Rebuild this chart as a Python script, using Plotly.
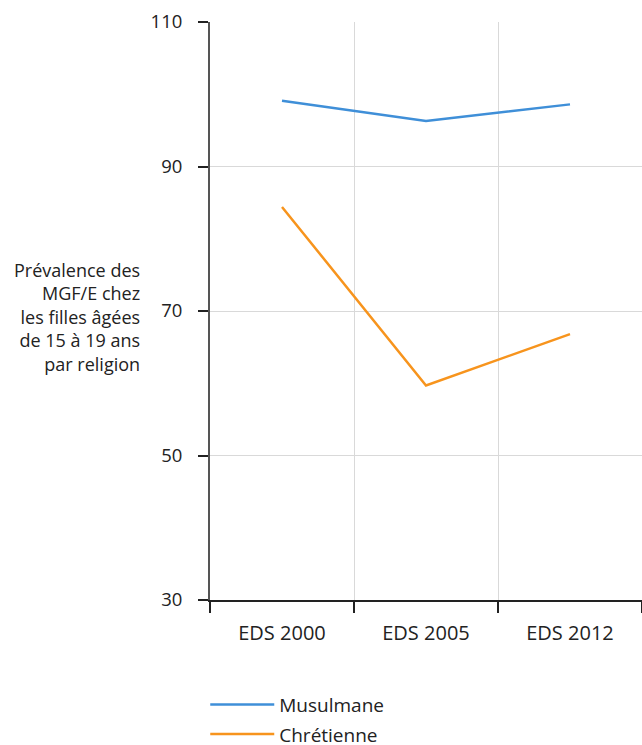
import plotly.graph_objects as go

categories = ["EDS 2000", "EDS 2005", "EDS 2012"]
musulmane = [99.1, 96.3, 98.6]
chretienne = [84.4, 59.7, 66.8]
series_names = ["Musulmane", "Chrétienne"]
y_ticks = [30, 50, 70, 90, 110]
y_title = "Prévalence des<br>MGF/E chez<br>les filles âgées<br>de 15 à 19 ans<br>par religion"

FONT = "Open Sans"
fig = go.Figure()
fig.add_trace(go.Scatter(x=categories, y=musulmane, mode="lines", name=series_names[0],
                         line=dict(color="#3f8fd8", width=2.5), legendgroup="a"))
fig.add_trace(go.Scatter(x=categories, y=chretienne, mode="lines", name=series_names[1],
                         line=dict(color="#f7941d", width=2.5), legendgroup="b"))

fig.update_layout(
    width=642, height=745,
    margin=dict(l=210, r=0, t=22, b=145, autoexpand=False),
    paper_bgcolor="white", plot_bgcolor="white",
    font=dict(family=FONT, size=19, color="#222"),
    showlegend=True,
    legend=dict(orientation="v", x=-0.011, xanchor="left", y=-0.148, yanchor="top",
                font=dict(size=19, color="#222"), itemwidth=64, tracegroupgap=2,
                bgcolor="rgba(0,0,0,0)"),
    annotations=[dict(text=y_title, xref="paper", yref="y", x=-0.158, y=70, yshift=-6,
                      xanchor="right", yanchor="middle", align="right", showarrow=False,
                      font=dict(size=18, color="#222"))],
)
fig.update_xaxes(type="category", range=[-0.5, 2.5], tickson="boundaries", showgrid=True,
                 gridcolor="#d9d9d9", gridwidth=1, showline=True, linecolor="#222", linewidth=1.5,
                 ticks="outside", ticklen=11, tickwidth=1.5, tickcolor="#222",
                 tickfont=dict(size=20), ticklabelstandoff=14, zeroline=False, automargin=False)
fig.update_yaxes(range=[30, 110], tickvals=y_ticks, showgrid=True, gridcolor="#d9d9d9",
                 gridwidth=1, showline=True, linecolor="#555", linewidth=2,
                 ticks="outside", ticklen=10, tickwidth=1.5, tickcolor="#222",
                 tickfont=dict(size=18.5), ticklabelstandoff=12, zeroline=False, automargin=False)

# remove the browser's default 8px body margin so the figure fills the window exactly
fig.write_html("out.html", config={"displayModeBar": False},
               post_script="document.body.style.margin='0';document.body.style.overflow='hidden';")
